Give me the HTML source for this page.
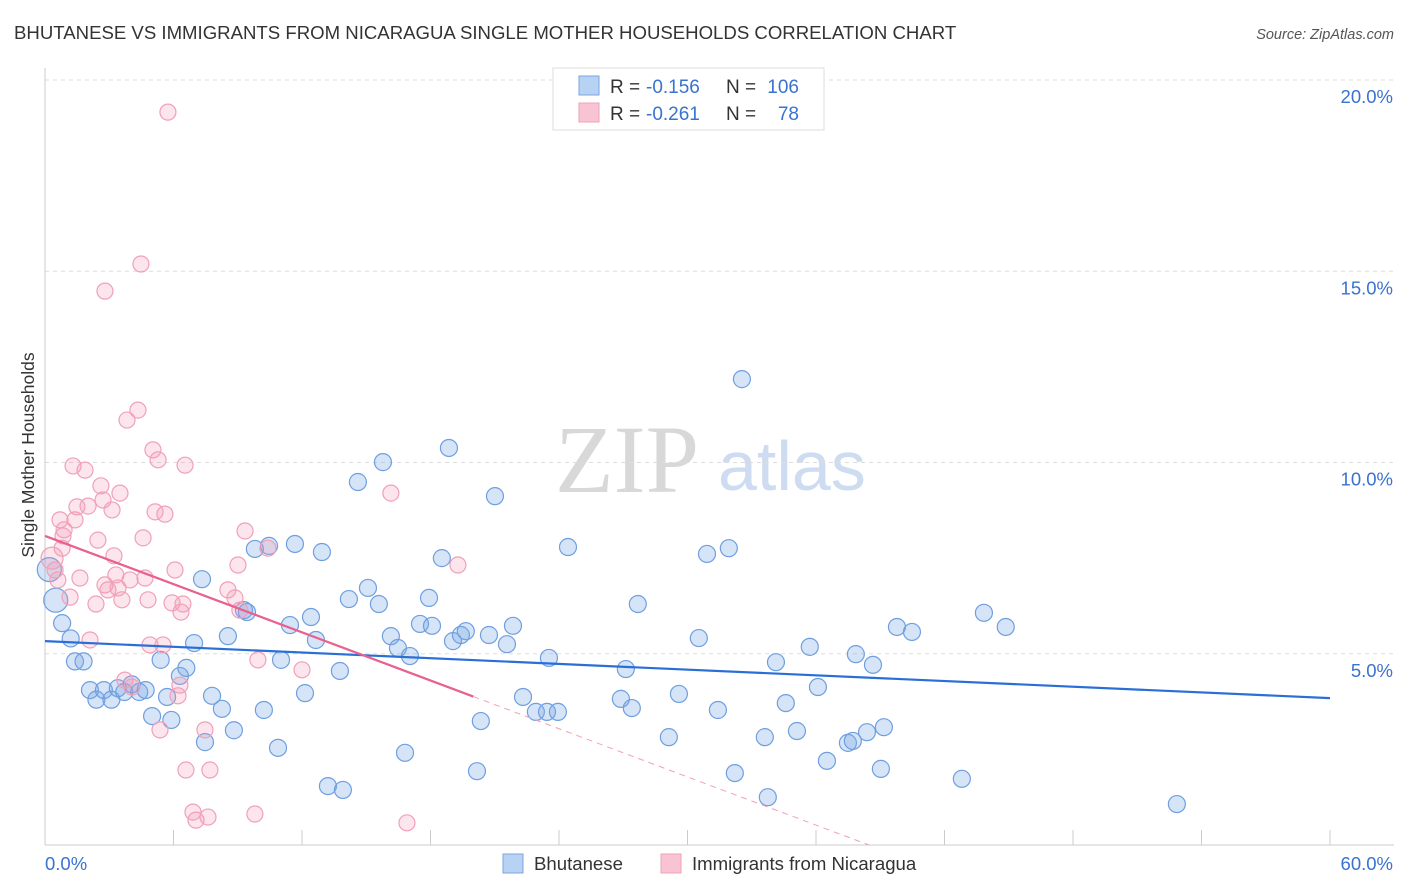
<!DOCTYPE html>
<html><head><meta charset="utf-8">
<style>
body{margin:0;background:#fff;font-family:"Liberation Sans",sans-serif;}
#wrap{position:relative;width:1406px;height:892px;overflow:hidden;}
</style></head>
<body>
<div id="wrap">
<svg id="chart" width="1406" height="892">
<text x="14" y="39" font-size="18.6" fill="#333">BHUTANESE VS IMMIGRANTS FROM NICARAGUA SINGLE MOTHER HOUSEHOLDS CORRELATION CHART</text>
<text x="1394" y="39" font-size="14.5" fill="#555" font-style="italic" text-anchor="end">Source: ZipAtlas.com</text>
<text x="555" y="492" font-size="96" fill="#d8d8d8" font-family="Liberation Serif,serif">ZIP</text>
<text x="718" y="490" font-size="70" fill="#cddcf0">atlas</text>
<text transform="translate(34,455) rotate(-90)" font-size="17.5" fill="#333" text-anchor="middle">Single Mother Households</text>
<g id="grid"></g><g id="axes"></g><g id="pts"></g><g id="trends"></g>
<g>
<rect x="553" y="68" width="271" height="62" fill="#fff" stroke="#ddd"/>
<rect x="579" y="76" width="20" height="19" fill="#b8d2f4" stroke="#7aa5e0"/>
<rect x="579" y="103" width="20" height="19" fill="#f8c4d4" stroke="#f0a0b8"/>
<text x="610" y="93" font-size="19" fill="#333">R =</text>
<text x="646" y="93" font-size="19" fill="#3a72d0">-0.156</text>
<text x="726" y="93" font-size="19" fill="#333">N =</text>
<text x="799" y="93" font-size="19" fill="#3a72d0" text-anchor="end">106</text>
<text x="610" y="120" font-size="19" fill="#333">R =</text>
<text x="646" y="120" font-size="19" fill="#3a72d0">-0.261</text>
<text x="726" y="120" font-size="19" fill="#333">N =</text>
<text x="799" y="120" font-size="19" fill="#3a72d0" text-anchor="end">78</text>
</g>
<g>
<rect x="503" y="854" width="20" height="19" fill="#b8d2f4" stroke="#7aa5e0"/>
<text x="534" y="870" font-size="18.6" fill="#333">Bhutanese</text>
<rect x="661" y="854" width="20" height="19" fill="#f8c4d4" stroke="#f0a0b8"/>
<text x="692" y="870" font-size="18.6" fill="#333">Immigrants from Nicaragua</text>
</g>
</svg>
</div>
<script>
const blueX=[0.2,0.5,0.8,1.2,1.4,1.8,2.1,2.4,2.75,3.1,3.4,3.7,4.05,4.4,4.7,5.0,5.4,5.7,5.9,6.3,6.6,6.96,7.33,7.47,7.8,8.26,8.54,8.82,9.29,9.43,9.8,10.22,10.46,10.88,11.02,11.44,11.67,12.14,12.42,12.65,12.93,13.21,13.77,13.91,14.19,14.61,15.08,15.59,15.78,16.15,16.48,16.81,17.04,17.51,17.93,18.07,18.53,18.86,19.05,19.42,19.65,20.17,20.35,20.73,21.01,21.57,21.85,22.32,22.92,23.44,23.53,23.95,24.42,26.89,27.12,27.4,27.68,29.13,29.6,30.53,30.91,31.42,31.93,32.21,32.54,33.61,33.75,34.13,34.59,35.11,35.71,36.09,36.51,37.49,37.72,37.86,38.38,38.66,39.03,39.17,39.78,40.48,42.81,43.84,44.86,52.85];
const blueY=[7.2,6.4,5.8,5.4,4.8,4.8,4.05,3.8,4.05,3.8,4.1,4.0,4.2,4.0,4.05,3.37,4.84,3.87,3.27,4.42,4.63,5.28,6.95,2.69,3.9,3.56,5.46,3.0,6.14,6.09,7.74,3.53,7.82,2.54,4.84,5.75,7.87,3.97,5.96,5.36,7.66,1.54,4.55,1.44,6.43,9.49,6.72,6.3,10.01,5.46,5.15,2.41,4.94,5.78,6.46,5.73,7.5,10.38,5.33,5.49,5.59,1.93,3.24,5.49,9.12,5.25,5.73,3.87,3.48,3.48,4.89,3.48,7.79,3.82,4.6,3.58,6.3,2.82,3.95,5.41,7.61,3.53,7.76,1.88,12.18,2.82,1.25,4.78,3.71,2.98,5.18,4.13,2.2,2.67,2.72,4.99,2.95,4.71,1.99,3.08,5.7,5.57,1.73,6.07,5.7,1.07];
const pinkX=[0.33,0.47,0.6,0.8,0.89,1.17,1.31,1.4,1.49,1.63,1.87,2.01,2.1,2.38,2.47,2.61,2.71,2.8,2.94,3.13,3.22,3.31,3.41,3.5,3.59,3.73,3.83,3.97,4.06,4.34,4.48,4.58,4.67,4.81,4.9,5.04,5.14,5.28,5.37,5.51,5.6,5.74,5.93,6.07,6.21,6.3,6.35,6.44,6.54,6.58,6.91,7.05,7.47,7.61,7.7,8.54,8.87,9.01,9.1,9.34,9.8,9.94,10.41,12.0,16.15,16.9,19.28,2.8,0.7,0.84];
const pinkY=[7.5,7.19,6.93,7.76,8.24,6.48,9.91,8.5,8.84,6.98,9.8,8.86,5.36,6.3,7.97,9.39,9.02,6.8,6.67,8.76,7.56,7.06,6.72,9.2,6.41,4.31,11.11,6.93,4.13,11.37,15.19,8.03,6.98,6.41,5.23,10.33,8.71,10.07,3.01,5.23,8.65,19.16,6.33,7.19,3.9,4.18,6.09,6.3,9.93,1.96,0.86,0.65,3.01,0.73,1.96,6.67,6.46,7.32,6.14,8.21,0.81,4.84,7.76,4.58,9.2,0.58,7.32,14.48,8.5,8.08];
const blueBig=[0,1];
const pinkBig=[0];
const blueTrend=[5.33,3.84]; // at x=0 and x=60
const pinkTrend=[8.08,-0.21]; // intercept, slope
const pinkSolidEnd=20;
const yTicks=[5,10,15,20];
const yTickLabels=["5.0%","10.0%","15.0%","20.0%"];
const xTicks=[0,6,12,18,24,30,36,42,48,54,60];

const NS="http://www.w3.org/2000/svg";
const X=v=>45+v*(1285/60);
const Y=v=>845-v*38.25;
function mk(tag,attrs,parent){const e=document.createElementNS(NS,tag);for(const k in attrs)e.setAttribute(k,attrs[k]);parent.appendChild(e);return e;}
const grid=document.getElementById('grid'),axes=document.getElementById('axes'),pts=document.getElementById('pts'),tr=document.getElementById('trends');
yTicks.forEach((t,i)=>{
  const l=mk('line',{x1:45,x2:1394,y1:Y(t),y2:Y(t),stroke:'#ddd','stroke-dasharray':'4,4'},grid);
  
  
  const tx=mk('text',{x:1393,y:Y(t)+23,'font-size':18.5,fill:'#3a72d0','text-anchor':'end'},grid);
  tx.textContent=yTickLabels[i];
  
  
});
const ax=mk('line',{x1:45,x2:45,y1:68,y2:845,stroke:'#ccc'},axes);


const bx=mk('line',{x1:45,x2:1394,y1:845,y2:845,stroke:'#ccc'},axes);


xTicks.forEach(t=>{
  const l=mk('line',{x1:X(t),x2:X(t),y1:830,y2:845,stroke:'#ccc'},axes);
  
  
});
const xl0=mk('text',{x:45,y:870,'font-size':18.5,fill:'#3a72d0'},axes);xl0.textContent='0.0%';


const xl1=mk('text',{x:1393,y:870,'font-size':18.5,fill:'#3a72d0','text-anchor':'end'},axes);xl1.textContent='60.0%';


blueX.forEach((v,i)=>{
  const c=mk('circle',{cx:X(v),cy:Y(blueY[i]),r:blueBig.includes(i)?12:8.5,fill:'rgba(120,165,230,0.3)',stroke:'#6f9fe0','stroke-width':1.2},pts);
  
  
});
pinkX.forEach((v,i)=>{
  const c=mk('circle',{cx:X(v),cy:Y(pinkY[i]),r:pinkBig.includes(i)?11:8,fill:'rgba(245,150,180,0.25)',stroke:'#f0a0b8','stroke-width':1.2},pts);
  
  
});
const bl=mk('line',{x1:X(0),y1:Y(blueTrend[0]),x2:X(60),y2:Y(blueTrend[1]),stroke:'#2a6fd6','stroke-width':2.2},tr);


const pEnd=-pinkTrend[0]/pinkTrend[1];
const pl=mk('line',{x1:X(0),y1:Y(pinkTrend[0]),x2:X(pinkSolidEnd),y2:Y(pinkTrend[0]+pinkTrend[1]*pinkSolidEnd),stroke:'#e8608e','stroke-width':2.2},tr);


const pd=mk('line',{x1:X(pinkSolidEnd),y1:Y(pinkTrend[0]+pinkTrend[1]*pinkSolidEnd),x2:X(pEnd),y2:Y(0),stroke:'#f0a0b8','stroke-width':1,'stroke-dasharray':'6,5'},tr);


</script>
</body></html>
